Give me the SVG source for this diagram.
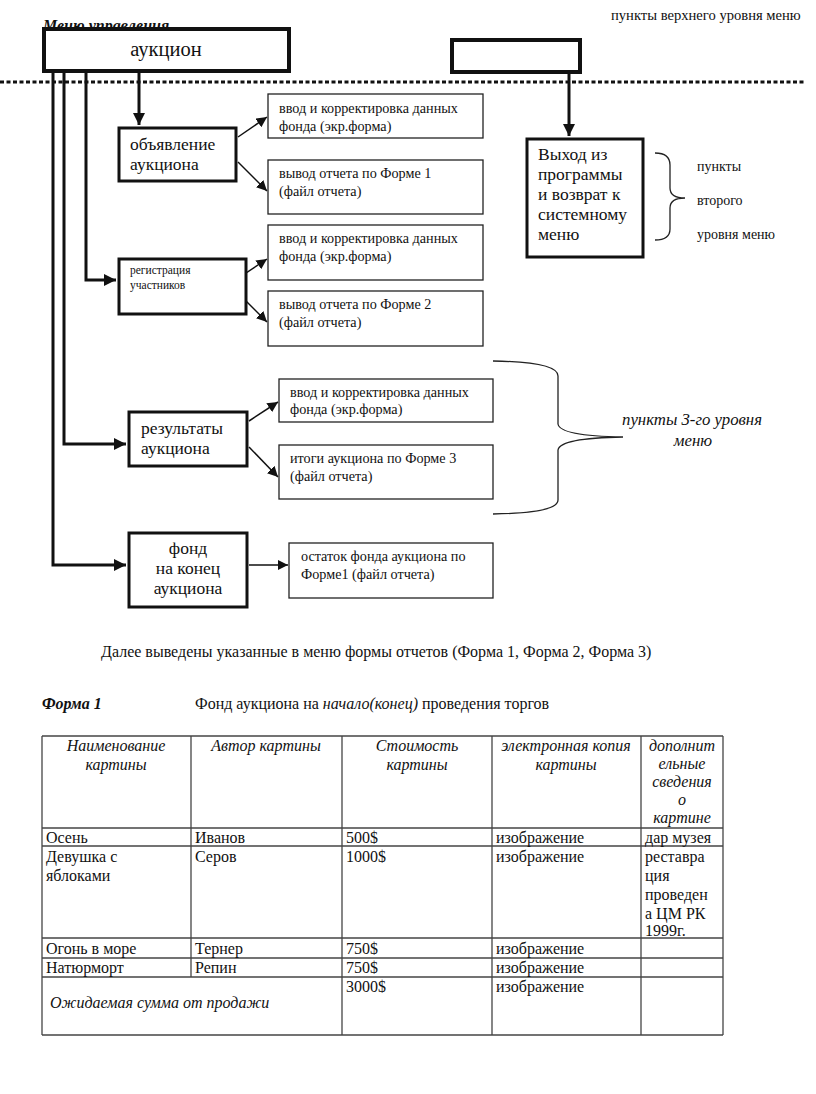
<svg xmlns="http://www.w3.org/2000/svg" width="816" height="1094" viewBox="0 0 816 1094">
<style>
text{font-family:"Liberation Serif","Times New Roman",serif;fill:#111}
.thick{fill:#fff;stroke:#111;stroke-width:4}
.med{fill:#fff;stroke:#111;stroke-width:3}
.thin{fill:#fff;stroke:#222;stroke-width:1.3}
.c3{fill:none;stroke:#111;stroke-width:3}
.c1{fill:none;stroke:#111;stroke-width:1.5}
.br{fill:none;stroke:#222;stroke-width:1.3}
.t13{font-size:14.2px}
.t17{font-size:17.5px}
.t15{font-size:16px}
.it{font-style:italic}
.tb line{stroke:#444;stroke-width:1.3}
</style>
<defs>
<marker id="ah" viewBox="0 0 10 10" refX="10" refY="5" markerWidth="4" markerHeight="4" orient="auto" markerUnits="strokeWidth"><path d="M0,0 L10,5 L0,10 Z" fill="#111"/></marker>
<marker id="as" viewBox="0 0 10 10" refX="10" refY="5" markerWidth="7" markerHeight="7" orient="auto" markerUnits="strokeWidth"><path d="M0,0 L10,5 L0,10 Z" fill="#111"/></marker>
</defs>

<text x="611" y="20" style="font-size:14.6px">пункты верхнего уровня меню</text>
<text x="43" y="31" style="font-size:16px;font-weight:bold;font-style:italic">Меню управления</text>

<line x1="0" y1="82" x2="806" y2="82" style="stroke:#111;stroke-width:3;stroke-dasharray:4 2.5"/>

<g id="connectors">
<path class="c3" d="M53,73 L53,565 L126,565" marker-end="url(#ah)"/>
<path class="c3" d="M64,73 L64,444 L126,444" marker-end="url(#ah)"/>
<path class="c3" d="M86,73 L86,280 L116,280" marker-end="url(#ah)"/>
<path class="c3" d="M139,73 L139,125" marker-end="url(#ah)"/>
<path class="c3" d="M569,73 L569,136" marker-end="url(#ah)"/>
<line class="c1" x1="238" y1="137" x2="267" y2="117" marker-end="url(#as)"/>
<line class="c1" x1="238" y1="162" x2="267" y2="191" marker-end="url(#as)"/>
<line class="c1" x1="237" y1="279" x2="267" y2="259" marker-end="url(#as)"/>
<line class="c1" x1="237" y1="292" x2="267" y2="322" marker-end="url(#as)"/>
<line class="c1" x1="249" y1="421" x2="278" y2="402" marker-end="url(#as)"/>
<line class="c1" x1="249" y1="447" x2="278" y2="477" marker-end="url(#as)"/>
<line class="c1" x1="249" y1="565" x2="288" y2="565" marker-end="url(#as)"/>
</g>

<g id="auction">
<rect class="thick" x="44" y="29" width="245" height="42"/>
<text x="166" y="56" text-anchor="middle" style="font-size:20.5px">аукцион</text>
</g>
<g id="exit-top">
<rect class="thick" x="452" y="40" width="128" height="32"/>
</g>

<g id="announce">
<rect class="med" x="119" y="128" width="117" height="53"/>
<text class="t17" x="130" y="150">объявление</text>
<text class="t17" x="130" y="170">аукциона</text>
</g>
<g id="a1">
<rect class="thin" x="268" y="94" width="215" height="44"/>
<text class="t13" x="279" y="113">ввод и корректировка данных</text>
<text class="t13" x="279" y="131">фонда (экр.форма)</text>
</g>
<g id="a2">
<rect class="thin" x="268" y="160" width="215" height="54"/>
<text class="t13" x="279" y="178">вывод отчета по Форме 1</text>
<text class="t13" x="279" y="196">(файл отчета)</text>
</g>

<g id="register">
<rect class="med" x="119" y="259" width="127" height="55"/>
<text x="130" y="274" style="font-size:11.5px">регистрация</text>
<text x="130" y="289" style="font-size:11.5px">участников</text>
</g>
<g id="r1">
<rect class="thin" x="268" y="225" width="215" height="55"/>
<text class="t13" x="279" y="243">ввод и корректировка данных</text>
<text class="t13" x="279" y="261">фонда (экр.форма)</text>
</g>
<g id="r2">
<rect class="thin" x="268" y="291" width="215" height="55"/>
<text class="t13" x="279" y="309">вывод отчета по Форме 2</text>
<text class="t13" x="279" y="327">(файл отчета)</text>
</g>

<g id="exit">
<rect class="med" x="527" y="139" width="116" height="118"/>
<text class="t17" x="538" y="160">Выход из</text>
<text class="t17" x="538" y="180">программы</text>
<text class="t17" x="538" y="200">и возврат к</text>
<text class="t17" x="538" y="220">системному</text>
<text class="t17" x="538" y="240">меню</text>
</g>
<g id="level2-label">
<path class="br" d="M655,153 Q670,153 670,165 L670,188 Q670,198 685,198 Q670,198 670,208 L670,229 Q670,240 655,240"/>
<text x="697" y="171" style="font-size:14px">пункты</text>
<text x="697" y="205" style="font-size:14px">второго</text>
<text x="697" y="239" style="font-size:14px">уровня меню</text>
</g>

<g id="results">
<rect class="med" x="129" y="412" width="118" height="54"/>
<text class="t17" x="141" y="434">результаты</text>
<text class="t17" x="141" y="454">аукциона</text>
</g>
<g id="s1">
<rect class="thin" x="279" y="379" width="214" height="43"/>
<text class="t13" x="290" y="397">ввод и корректировка данных</text>
<text class="t13" x="290" y="414">фонда (экр.форма)</text>
</g>
<g id="s2">
<rect class="thin" x="279" y="445" width="214" height="54"/>
<text class="t13" x="290" y="463">итоги аукциона по Форме 3</text>
<text class="t13" x="290" y="481">(файл отчета)</text>
</g>
<g id="level3-label">
<path class="br" d="M493,361 Q558,362 558,376 L558,424 Q560,436 623,437 Q560,438 558,450 L558,500 Q558,513 493,514"/>
<text x="692" y="425" text-anchor="middle" class="it" style="font-size:16.8px">пункты 3-го уровня</text>
<text x="693" y="446" text-anchor="middle" class="it" style="font-size:16.8px">меню</text>
</g>

<g id="fund-end">
<rect class="med" x="129" y="533" width="118" height="74"/>
<text class="t17" x="188" y="554" text-anchor="middle">фонд</text>
<text class="t17" x="188" y="574" text-anchor="middle">на конец</text>
<text class="t17" x="188" y="594" text-anchor="middle">аукциона</text>
</g>
<g id="f1">
<rect class="thin" x="289" y="543" width="204" height="55"/>
<text class="t13" x="301" y="561">остаток фонда аукциона по</text>
<text class="t13" x="301" y="579">Форме1 (файл отчета)</text>
</g>

<text class="t15" x="101" y="657">Далее выведены указанные в меню формы отчетов (Форма 1, Форма 2, Форма 3)</text>
<text class="t15" x="42" y="709" style="font-weight:bold;font-style:italic">Форма 1</text>
<text class="t15" x="195" y="709">Фонд аукциона на <tspan font-style="italic">начало(конец)</tspan> проведения торгов</text>

<g id="table" class="tb">
<line x1="42" y1="736" x2="723" y2="736"/>
<line x1="42" y1="828" x2="723" y2="828"/>
<line x1="42" y1="846" x2="723" y2="846"/>
<line x1="42" y1="938" x2="723" y2="938"/>
<line x1="42" y1="958" x2="723" y2="958"/>
<line x1="42" y1="977" x2="723" y2="977"/>
<line x1="42" y1="1035" x2="723" y2="1035"/>
<line x1="42" y1="736" x2="42" y2="1035"/>
<line x1="191" y1="736" x2="191" y2="977"/>
<line x1="342" y1="736" x2="342" y2="1035"/>
<line x1="492" y1="736" x2="492" y2="1035"/>
<line x1="641" y1="736" x2="641" y2="1035"/>
<line x1="723" y1="736" x2="723" y2="1035"/>
<g text-anchor="middle">
<text x="116" y="751" class="it t15">Наименование</text>
<text x="116" y="770" class="it t15">картины</text>
<text x="266" y="751" class="it t15">Автор картины</text>
<text x="417" y="751" class="it t15">Стоимость</text>
<text x="417" y="770" class="it t15">картины</text>
<text x="566" y="751" class="it t15">электронная копия</text>
<text x="566" y="770" class="it t15">картины</text>
<text x="682" y="751" class="it t15">дополнит</text>
<text x="682" y="769" class="it t15">ельные</text>
<text x="682" y="787" class="it t15">сведения</text>
<text x="682" y="805" class="it t15">о</text>
<text x="682" y="823" class="it t15">картине</text>
</g>
<text class="t15" x="46" y="843">Осень</text>
<text class="t15" x="195" y="843">Иванов</text>
<text class="t15" x="346" y="843">500$</text>
<text class="t15" x="496" y="843">изображение</text>
<text class="t15" x="645" y="843">дар музея</text>
<text class="t15" x="46" y="862">Девушка с</text>
<text class="t15" x="46" y="881">яблоками</text>
<text class="t15" x="195" y="862">Серов</text>
<text class="t15" x="346" y="862">1000$</text>
<text class="t15" x="496" y="862">изображение</text>
<text class="t15" x="645" y="862">реставра</text>
<text class="t15" x="645" y="881">ция</text>
<text class="t15" x="645" y="900">проведен</text>
<text class="t15" x="645" y="919">а ЦМ РК</text>
<text class="t15" x="645" y="936">1999г.</text>
<text class="t15" x="46" y="954">Огонь в море</text>
<text class="t15" x="195" y="954">Тернер</text>
<text class="t15" x="346" y="954">750$</text>
<text class="t15" x="496" y="954">изображение</text>
<text class="t15" x="46" y="973">Натюрморт</text>
<text class="t15" x="195" y="973">Репин</text>
<text class="t15" x="346" y="973">750$</text>
<text class="t15" x="496" y="973">изображение</text>
<text class="t15 it" x="50" y="1008">Ожидаемая сумма от продажи</text>
<text class="t15" x="346" y="992">3000$</text>
<text class="t15" x="496" y="992">изображение</text>
</g>
</svg>
